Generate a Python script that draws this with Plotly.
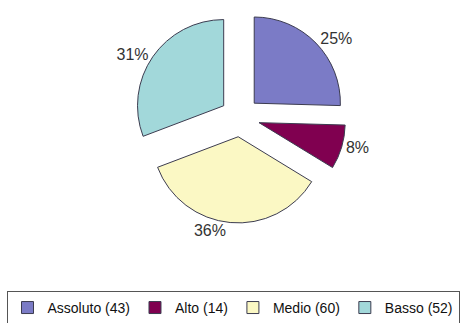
import plotly.graph_objects as go

# Distribution of levels with respondent counts
categories = ["Assoluto", "Alto", "Medio", "Basso"]
counts = [43, 14, 60, 52]
colors = ["#7b7bc6", "#800050", "#fbf8c4", "#a2d8da"]

legend_labels = [f"{c} ({n})" for c, n in zip(categories, counts)]

W, H = 466, 323
cx, cy, half = 240, 117, 106  # pie centre and half-size of its box, px

fig = go.Figure(
    go.Pie(
        labels=legend_labels,
        values=counts,
        sort=False,
        direction="clockwise",
        rotation=0,
        pull=[0.23] * len(counts),
        marker=dict(colors=colors, line=dict(color="#3c3c50", width=1)),
        texttemplate="%{percent:.0%}",
        textposition="outside",
        textfont=dict(family="Arial, Liberation Sans, sans-serif", size=16, color="#333333"),
        domain=dict(
            x=[(cx - half) / W, (cx + half) / W],
            y=[(H - cy - half) / H, (H - cy + half) / H],
        ),
        hoverinfo="label+percent",
    )
)

fig.update_layout(
    width=W,
    height=H,
    margin=dict(l=0, r=0, t=0, b=0, autoexpand=False),
    paper_bgcolor="white",
    plot_bgcolor="white",
    showlegend=True,
    legend=dict(
        orientation="h",
        x=0.5,
        xanchor="center",
        y=-0.006,
        yanchor="bottom",
        bordercolor="#555555",
        borderwidth=1,
        font=dict(family="Arial, Liberation Sans, sans-serif", size=14, color="#111111"),
        itemwidth=30,
        tracegroupgap=0,
        traceorder="normal",
    ),
)

fig.write_html("out.html")
